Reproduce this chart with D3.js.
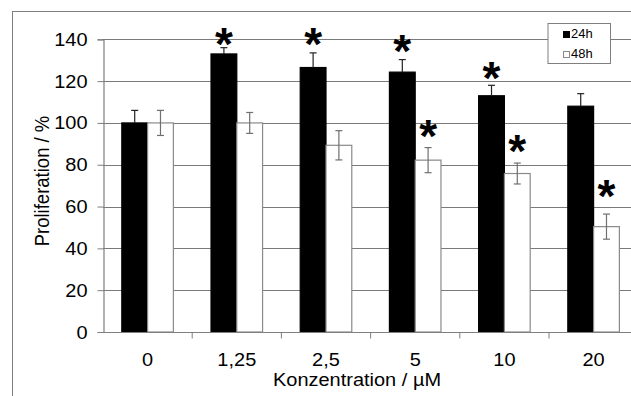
<!DOCTYPE html>
<html lang="de">
<head>
    <meta charset="utf-8">
    <title>Proliferation</title>
    <script src="https://d3js.org/d3.v7.min.js"></script>
    <style>
        body {
            margin: 0;
            background: #ffffff;
            font-family: "Liberation Sans", Arial, sans-serif;
        }
        svg text {
            fill: #000000;
            font-family: "Liberation Sans", Arial, sans-serif;
        }
    </style>
</head>
<body>
    <svg id="chart" width="631" height="396"></svg>

    <script>
        // Chart data
        const categories = ["0", "1,25", "2,5", "5", "10", "20"];
        const series = ["24h", "48h"];
        const values24 = [100, 133, 126.5, 124.3, 113, 108];
        const errors24 = [6, 3, 7, 6, 5, 6];
        const values48 = [100, 100, 89.3, 82.2, 75.8, 50.4];
        const errors48 = [6, 5, 7, 6, 5, 6];
        // asterisk centre heights (in % units), null = no asterisk
        const stars24 = [null, 138.3, 138.3, 134.8, 121.8, null];
        const stars48 = [null, null, null, 94.2, 87, 65.5];
        const yTicks = [0, 20, 40, 60, 80, 100, 120, 140];

        const width = 631, height = 396;
        const margin = { top: 39.3, left: 103, bottom: 64 };
        const plotRight = 638.2; // plot area runs past the picture edge
        const stretch = 1.08;    // text in the original is a bit wide
        const svg = d3.select("#chart");

        // helper: text drawn with a slight horizontal stretch
        function label(parent, x, y, str, size, anchor, rotate) {
            return parent.append("text")
                .attr("transform", `translate(${x},${y}) scale(${stretch},1)` + (rotate ? " rotate(-90)" : ""))
                .attr("text-anchor", anchor)
                .style("font-size", size + "px")
                .text(str);
        }

        const y = d3.scaleLinear()
            .domain([0, 140])
            .range([height - margin.bottom, margin.top]);

        const x0 = d3.scaleBand()
            .domain(categories)
            .range([margin.left, plotRight])
            .paddingInner(0)
            .paddingOuter(0);

        const x1 = d3.scaleBand()
            .domain(series)
            .range([0, x0.bandwidth()])
            .paddingInner(0)
            .paddingOuter(0.73);

        // outer frame
        svg.append("rect")
            .attr("x", 12.5)
            .attr("y", 11.5)
            .attr("width", 700)
            .attr("height", 500)
            .attr("fill", "none")
            .attr("stroke", "#7f7f7f")
            .attr("stroke-width", 1);

        // gridlines
        svg.append("g")
            .selectAll("line")
            .data(yTicks.filter(d => d > 0))
            .enter().append("line")
            .attr("x1", margin.left)
            .attr("x2", plotRight)
            .attr("y1", d => Math.round(y(d)) + 0.5)
            .attr("y2", d => Math.round(y(d)) + 0.5)
            .attr("stroke", "#7a7a7a")
            .attr("stroke-width", 1.2);

        const rows = categories.map((c, i) => ({
            cat: c,
            bars: [
                { s: "24h", v: values24[i], e: errors24[i], star: stars24[i] },
                { s: "48h", v: values48[i], e: errors48[i], star: stars48[i] }
            ]
        }));

        const groups = svg.append("g")
            .selectAll("g")
            .data(rows)
            .enter().append("g")
            .attr("transform", d => `translate(${x0(d.cat)},0)`);

        groups.selectAll("rect")
            .data(d => d.bars)
            .enter().append("rect")
            .attr("x", d => x1(d.s))
            .attr("y", d => y(d.v))
            .attr("width", x1.bandwidth())
            .attr("height", d => y(0) - y(d.v))
            .attr("fill", d => d.s === "24h" ? "#000000" : "#ffffff")
            .attr("stroke", d => d.s === "24h" ? "#000000" : "#8a8a8a")
            .attr("stroke-width", 1.2);

        // error bars and asterisks
        const capHalf = 3.5;
        groups.each(function(d) {
            const g = d3.select(this);
            d.bars.forEach(b => {
                const cx = x1(b.s) + x1.bandwidth() / 2;
                const col = b.s === "24h" ? "#222222" : "#707070";
                const lo = b.s === "24h" ? b.v : b.v - b.e;
                g.append("line")
                    .attr("x1", cx).attr("x2", cx)
                    .attr("y1", y(b.v + b.e)).attr("y2", y(lo))
                    .attr("stroke", col).attr("stroke-width", 1.2);
                g.append("line")
                    .attr("x1", cx - capHalf).attr("x2", cx + capHalf)
                    .attr("y1", y(b.v + b.e)).attr("y2", y(b.v + b.e))
                    .attr("stroke", col).attr("stroke-width", 1.2);
                if (b.s === "48h") {
                    g.append("line")
                        .attr("x1", cx - capHalf).attr("x2", cx + capHalf)
                        .attr("y1", y(b.v - b.e)).attr("y2", y(b.v - b.e))
                        .attr("stroke", col).attr("stroke-width", 1.2);
                }
                if (b.star !== null) {
                    g.append("text")
                        .attr("x", cx)
                        .attr("y", y(b.star) + 17)
                        .attr("text-anchor", "middle")
                        .style("font-size", "46px")
                        .style("font-weight", "bold")
                        .text("*");
                }
            });
        });

        // y axis (line and ticks from d3, labels drawn below)
        const yAxis = d3.axisLeft(y)
            .tickValues(yTicks)
            .tickSize(6)
            .tickFormat("");
        const yg = svg.append("g")
            .attr("transform", `translate(${margin.left + 0.5},0)`)
            .call(yAxis);
        yg.select(".domain").attr("stroke", "#7f7f7f").attr("stroke-width", 1.2);
        yg.selectAll(".tick line").attr("stroke", "#7f7f7f");
        yTicks.forEach(t => {
            label(svg, 87.5, y(t) + 6.5, d3.format("d")(t), 18.5, "end");
        });

        // x axis
        const xg = svg.append("g")
            .attr("transform", `translate(0,${y(0) + 0.5})`);
        xg.append("line")
            .attr("x1", margin.left).attr("x2", plotRight)
            .attr("stroke", "#7f7f7f").attr("stroke-width", 1.2);
        xg.selectAll(".xtick")
            .data(categories)
            .enter().append("line")
            .attr("x1", d => x0(d) + x0.bandwidth())
            .attr("x2", d => x0(d) + x0.bandwidth())
            .attr("y1", 0).attr("y2", 6)
            .attr("stroke", "#7f7f7f");
        categories.forEach(c => {
            label(svg, x0(c) + x0.bandwidth() / 2, 366, c, 18.5, "middle");
        });

        // axis titles
        label(svg, 48.5, 181, "Proliferation / %", 18.5, "middle", true);
        label(svg, 357, 386, "Konzentration / µM", 18.5, "middle");

        // legend
        const legend = svg.append("g")
            .attr("transform", "translate(548,23.5)");
        legend.append("rect")
            .attr("width", 62.5)
            .attr("height", 40)
            .attr("fill", "#ffffff")
            .attr("stroke", "#7f7f7f");
        series.forEach((s, i) => {
            legend.append("rect")
                .attr("x", 15.5)
                .attr("y", 8 + i * 20)
                .attr("width", 6)
                .attr("height", 6)
                .attr("fill", i === 0 ? "#000000" : "#ffffff")
                .attr("stroke", i === 0 ? "#000000" : "#8a8a8a");
            label(legend, 23, 14.8 + i * 20, s, 12, "start");
        });
    </script>
</body>
</html>
